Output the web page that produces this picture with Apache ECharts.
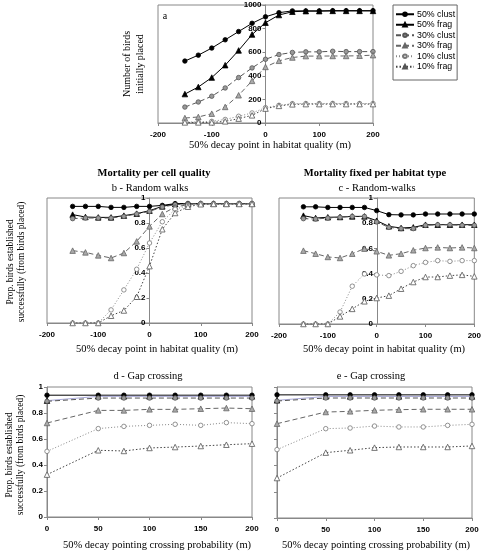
<!DOCTYPE html>
<html><head><meta charset="utf-8">
<script src="https://cdn.jsdelivr.net/npm/echarts@6/dist/echarts.min.js"></script>
<style>html,body{margin:0;padding:0;background:#fff}#c{width:484px;height:554px}</style>
</head><body><div id="c"></div>
<script>
const names = ['50% clust','50% frag','30% clust','30% frag','10% clust','10% frag'];
const xHab = [-150,-125,-100,-75,-50,-25,0,25,50,75,100,125,150,175,200];
const xGap = [0,50,75,100,125,150,175,200];

const a50c = [525,575,635,705,775,845,900,935,950,950,950,952,952,952,952];
const a50f = [245,305,385,490,615,750,850,915,943,948,948,950,950,950,950];
const a30c = [135,178,227,297,385,467,540,580,598,603,603,608,605,605,605];
const a30f = [42,51,79,136,235,357,475,527,555,567,567,568,568,570,575];
const a10c = [8,8,14,30,57,85,130,150,164,165,165,166,165,165,165];
const a10f = [5,5,5,14,37,65,122,145,158,160,160,160,160,160,160];

const b50c = [0.933,0.933,0.933,0.925,0.925,0.933,0.933,0.941,0.955,0.955,0.955,0.955,0.955,0.955,0.955];
const b50f = [0.867,0.848,0.845,0.845,0.859,0.875,0.899,0.933,0.952,0.955,0.955,0.955,0.955,0.955,0.955];
const b30c = [0.835,0.84,0.84,0.84,0.853,0.872,0.893,0.928,0.947,0.955,0.955,0.955,0.955,0.955,0.955];
const b30f = [0.579,0.565,0.541,0.52,0.56,0.653,0.773,0.872,0.928,0.947,0.955,0.955,0.955,0.955,0.955];
const b10c = [0,0,0,0.105,0.265,0.43,0.64,0.81,0.91,0.94,0.952,0.952,0.952,0.952,0.952];
const b10f = [0,0,0,0.058,0.1,0.21,0.455,0.75,0.88,0.93,0.95,0.952,0.952,0.952,0.952];

const c50c = [0.93,0.93,0.925,0.925,0.925,0.925,0.90,0.868,0.866,0.866,0.873,0.873,0.873,0.873,0.873];
const c50f = [0.86,0.841,0.847,0.849,0.854,0.854,0.82,0.775,0.762,0.767,0.788,0.788,0.788,0.788,0.788];
const c30c = [0.836,0.833,0.841,0.847,0.854,0.854,0.81,0.767,0.757,0.757,0.783,0.788,0.788,0.783,0.783];
const c30f = [0.582,0.558,0.532,0.524,0.558,0.598,0.577,0.545,0.558,0.585,0.603,0.608,0.603,0.608,0.603];
const c10c = [0,0,0,0.095,0.30,0.397,0.39,0.384,0.418,0.463,0.489,0.503,0.497,0.503,0.503];
const c10f = [0,0,0,0.06,0.12,0.18,0.206,0.225,0.28,0.333,0.373,0.373,0.384,0.39,0.378];

const d50c = [0.937,0.937,0.937,0.937,0.937,0.937,0.937,0.937];
const d50f = [0.895,0.928,0.928,0.928,0.928,0.928,0.928,0.928];
const d30c = [0.89,0.915,0.915,0.915,0.915,0.915,0.915,0.915];
const d30f = [0.723,0.82,0.82,0.828,0.828,0.833,0.838,0.833];
const d10c = [0.505,0.68,0.697,0.705,0.713,0.705,0.726,0.718];
const d10f = [0.326,0.513,0.508,0.531,0.538,0.546,0.556,0.564];

const e50c = [0.94,0.94,0.94,0.94,0.94,0.94,0.94,0.94];
const e50f = [0.898,0.928,0.928,0.928,0.928,0.928,0.928,0.928];
const e30c = [0.893,0.916,0.916,0.916,0.916,0.916,0.916,0.916];
const e30f = [0.72,0.809,0.814,0.822,0.827,0.83,0.83,0.83];
const e10c = [0.522,0.682,0.687,0.702,0.695,0.695,0.707,0.715];
const e10f = [0.305,0.499,0.517,0.537,0.542,0.542,0.542,0.55];

const SERIF = 'Liberation Serif';
const SANS = 'Liberation Sans';

const styles = [
  {symbol:'circle', size:4.5, line:'#000', dash:'solid', fill:'#000', border:'#000'},
  {symbol:'triangle', size:5.5, line:'#000', dash:'solid', fill:'#000', border:'#000'},
  {symbol:'circle', size:4.5, line:'#555', dash:[5,3], fill:'#999', border:'#555'},
  {symbol:'triangle', size:5.5, line:'#666', dash:[5,3], fill:'#aaa', border:'#666'},
  {symbol:'circle', size:4.5, line:'#888', dash:[1,2], fill:'#fff', border:'#777'},
  {symbol:'triangle', size:5.5, line:'#444', dash:[1.5,2], fill:'#fff', border:'#555'}
];

function mk(idx, xs, ys, k, lineOverride) {
  const s = styles[k];
  return {
    type:'line', name:names[k], xAxisIndex:idx, yAxisIndex:idx,
    data: xs.map((x,i)=>[x, ys[i]]),
    symbol:s.symbol, symbolSize:s.size, showAllSymbol:true,
    lineStyle:{color: lineOverride || s.line, width:1, type:s.dash},
    itemStyle:{color:s.fill, borderColor:s.border, borderWidth:0.8},
    emphasis:{disabled:true}, animation:false, z: 3
  };
}

const panels = [
  [xHab, [a50c,a50f,a30c,a30f,a10c,a10f]],
  [xHab, [b50c,b50f,b30c,b30f,b10c,b10f]],
  [xHab, [c50c,c50f,c30c,c30f,c10c,c10f]],
  [xGap, [d50c,d50f,d30c,d30f,d10c,d10f]],
  [xGap, [e50c,e50f,e30c,e30f,e10c,e10f]]
];
const series = [];
panels.forEach((p, idx) => {
  p[1].forEach((ys, k) => {
    const ov = (idx >= 3 && k === 1) ? '#a8a8d8' : null;
    series.push(mk(idx, p[0], ys, k, ov));
  });
});

const gridBox = {show:true, borderColor:'#888', borderWidth:1, backgroundColor:'transparent', containLabel:false};
const grids = [
  Object.assign({left:158, top:5, width:215, height:118}, gridBox),
  Object.assign({left:47, top:198, width:205, height:125}, gridBox),
  Object.assign({left:279, top:198, width:196, height:126}, gridBox),
  Object.assign({left:47, top:387, width:205, height:130}, gridBox),
  Object.assign({left:277, top:387, width:195, height:131}, gridBox)
];
const lab = {fontFamily:SANS, fontSize:8, fontWeight:'bold', color:'#000'};
function xAx(i, min, max, interval) {
  return {type:'value', gridIndex:i, min, max, interval,
    axisLine:{show:true, onZero:false, lineStyle:{color:'#888'}},
    axisTick:{show:true, length:3, lineStyle:{color:'#888'}},
    axisLabel:Object.assign({margin:8}, lab), splitLine:{show:false}};
}
function yAx(i, max, interval, showLab, offset) {
  return {type:'value', gridIndex:i, min:0, max, interval, offset:offset,
    axisLine:{show:true, onZero:false, lineStyle:{color:'#888'}},
    axisTick:{show:true, length:3, lineStyle:{color:'#888'}},
    axisLabel:Object.assign({show:showLab, margin:4, formatter: v => String(v)}, lab), splitLine:{show:false}};
}

const txt = (x, y, text, size, opts) => ({type:'text', x, y, z:10, rotation:(opts && opts.rot) || 0,
  style:{text, fill:'#000', font:((opts && opts.bold) ? 'bold ' : '') + size + 'px "' + SERIF + '"',
    textAlign:'center', textVerticalAlign:'middle', lineHeight: size + 2.5}});

const option = {
  animation:false,
  backgroundColor:'#fff',
  grid: grids,
  xAxis: [xAx(0,-200,200,100), xAx(1,-200,200,100), xAx(2,-200,200,100), xAx(3,0,200,50), xAx(4,0,200,50)],
  yAxis: [yAx(0,1000,200,true,-107.5), yAx(1,1,0.2,true,-102.5), yAx(2,1,0.2,true,-98), yAx(3,1,0.2,true,0), yAx(4,1,0.2,false,0)],
  legend: {
    data: names, orient:'vertical', left:393, top:5,
    borderColor:'#666', borderWidth:1, padding:[4,2,8,2],
    itemWidth:18, itemHeight:4.5, itemGap:0, selectedMode:false,
    textStyle:{fontFamily:SANS, fontSize:8.8, lineHeight:10.5, height:10.5, color:'#000', padding:[0,0,0,-2]}
  },
  graphic: [
    txt(165, 16, 'a', 10),
    txt(134, 64, 'Number of birds\ninitially placed', 10, {rot:Math.PI/2}),
    txt(270, 145, '50% decay point in habitat quality (m)', 10.5),
    txt(154, 173, 'Mortality per cell quality', 10.5, {bold:true}),
    txt(150, 188, 'b - Random walks', 10.5),
    txt(375, 173, 'Mortality fixed per habitat type', 10.5, {bold:true}),
    txt(377, 188, 'c - Random-walks', 10.5),
    txt(16, 262, 'Prop. birds established\nsuccessfully (from birds placed)', 9.4, {rot:Math.PI/2}),
    txt(157, 349, '50% decay point in habitat quality (m)', 10.5),
    txt(384, 349, '50% decay point in habitat quality (m)', 10.5),
    txt(148, 376, 'd - Gap crossing', 10.5),
    txt(371, 376, 'e - Gap crossing', 10.5),
    txt(15, 455, 'Prop. birds established\nsuccessfully (from birds placed)', 9.4, {rot:Math.PI/2}),
    txt(157, 545, '50% decay pointing crossing probability (m)', 10.5),
    txt(376, 545, '50% decay pointing crossing probability (m)', 10.5)
  ],
  series
};
const chart = echarts.init(document.getElementById('c'), null, {renderer:'canvas'});
chart.setOption(option);
</script></body></html>
